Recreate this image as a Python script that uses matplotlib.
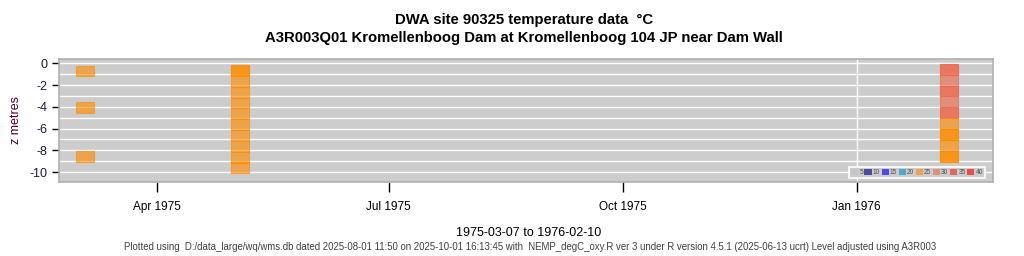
import numpy as np
import matplotlib.pyplot as plt
import matplotlib.dates as mdates
from matplotlib.patches import Rectangle, Patch
import datetime as dt

plt.rcParams['font.family'] = ['Liberation Sans', 'DejaVu Sans']
plt.rcParams['axes.unicode_minus'] = False

# ---- data: one row per reading (date, depth m, temperature degC) ----
# repeated rows are repeated readings at the same depth (drawn on top of each other)
p1_dates = ['1975-03-07'] * 3
p1_depth = [0.7, 4.1, 8.6]
p1_temp = [21.0, 21.0, 21.0]

p2_dates = ['1975-05-07'] * 11
p2_depth = [0.65, 0.65, 1.65, 2.65, 3.65, 4.65, 5.65, 6.65, 7.65, 8.65, 9.6]
p2_temp = [22.5, 22.3, 22.0, 21.8, 21.6, 21.5, 21.4, 21.3, 21.2, 21.1, 21.0]

p3_dates = ['1976-02-10'] * 14
p3_depth = [0.55, 0.55, 1.55, 2.55, 2.55, 3.55, 4.55, 4.55, 5.55, 6.55, 6.55, 7.55, 8.55, 8.55]
p3_temp = [27.6, 27.5, 27.3, 27.1, 27.0, 26.5, 25.8, 25.6, 24.6, 24.2, 24.0, 23.6, 23.2, 23.1]

bin_edges = [0, 5, 10, 15, 20, 25, 30, 35, 40]
bin_labels = ['5', '10', '15', '20', '25', '30', '35', '40']
bin_colors = ['#C4C4C4', '#000084', '#0000FF', '#0096CC', '#FF8C00', '#EE6A50', '#EE2C2C', '#FF0000']

dates = [dt.datetime.strptime(d, '%Y-%m-%d') for d in p1_dates + p2_dates + p3_dates]
depth = np.array(p1_depth + p2_depth + p3_depth)
temp = np.array(p1_temp + p2_temp + p3_temp)

alpha = 0.63
bar_days = 7
cell_h = 1.0

fig = plt.figure(figsize=(10.24, 2.56), dpi=100)
ax = fig.add_axes([0.0576, 0.289, 0.912, 0.481])
ax.set_facecolor('#CCCCCC')

# R style 4% padding of the date range
d1 = mdates.date2num(max(dates))
dmin = mdates.date2num(min(dates))
pad = 0.04 * (d1 - dmin)
ax.set_xlim(dmin - pad, d1 + pad)
ax.set_ylim(-10.92, 0.41)

for y in range(-10, 1):
    ax.axhline(y, color='white', lw=1.0, zorder=1)
ax.axvline(mdates.date2num(dt.datetime(1976, 1, 1)), color='white', lw=1.0, zorder=1)

for d, z, t in zip(dates, depth, temp):
    k = np.searchsorted(bin_edges, t) - 1
    k = min(max(k, 0), len(bin_colors) - 1)
    x = mdates.date2num(d)
    ax.add_patch(Rectangle((x - bar_days, -z - cell_h / 2), bar_days, cell_h,
                           facecolor=bin_colors[k], edgecolor=bin_colors[k],
                           lw=0.8, alpha=alpha, zorder=2))

ticks = [dt.datetime(1975, 4, 1), dt.datetime(1975, 7, 1), dt.datetime(1975, 10, 1), dt.datetime(1976, 1, 1)]
ax.set_xticks(mdates.date2num(ticks))
ax.set_xticklabels([t.strftime('%b %Y') for t in ticks], fontsize=8.5)
ax.set_yticks([0, -2, -4, -6, -8, -10])
ax.set_yticklabels(['0', '-2', '-4', '-6', '-8', '-10'], fontsize=9, color='#1A1A40')
ax.tick_params(axis='x', length=7, width=1, pad=7)
ax.tick_params(axis='y', length=5, width=1, pad=3)
for s in ax.spines.values():
    s.set_color('#B0B0B0')
    s.set_linewidth(1.2)

ax.set_ylabel('z metres', fontsize=9, color='#4A0030', labelpad=6)

handles = [Patch(facecolor=c, edgecolor='none', alpha=alpha) for c in bin_colors]
leg = ax.legend(handles, bin_labels, ncol=8, loc='lower right', bbox_to_anchor=(0.995, 0.005),
                fontsize=4.8, handlelength=1.1, handleheight=1.1, handletextpad=0.15,
                columnspacing=0.22, borderpad=0.3, frameon=True, fancybox=False,
                facecolor='#CCCCCC', edgecolor='white', framealpha=1)
leg.get_frame().set_linewidth(1.2)
for txt in leg.get_texts():
    txt.set_color('#505050')

fig.text(0.512, 0.92, 'DWA site 90325 temperature data  \u00b0C', ha='center', va='center',
         fontsize=10.7, fontweight='bold')
fig.text(0.512, 0.85, 'A3R003Q01 Kromellenboog Dam at Kromellenboog 104 JP near Dam Wall',
         ha='center', va='center', fontsize=10.7, fontweight='bold')
fig.text(0.516, 0.09, '1975-03-07 to 1976-02-10', ha='center', va='center', fontsize=9)
fig.text(0.518, 0.035, 'Plotted using  D:/data_large/wq/wms.db dated 2025-08-01 11:50 on 2025-10-01 16:13:45 with  '
         'NEMP_degC_oxy.R ver 3 under R version 4.5.1 (2025-06-13 ucrt) Level adjusted using A3R003',
         ha='center', va='center', fontsize=6.9, color='#404040')

fig.savefig('out.png', dpi=100)
